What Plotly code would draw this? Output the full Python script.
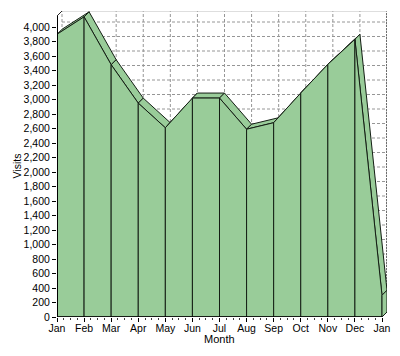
import plotly.graph_objects as go

# ---- data ----
months = ["Jan", "Feb", "Mar", "Apr", "May", "Jun", "Jul", "Aug", "Sep", "Oct", "Nov", "Dec", "Jan"]
visits = [3900, 4140, 3480, 2950, 2610, 3020, 3020, 2590, 2680, 3090, 3485, 3830, 300]
y_ticks = list(range(0, 4001, 200))
y_tick_text = [f"{v:,}" for v in y_ticks]

# ---- layout geometry / style ----
PAGE_OFF = 8                    # default body margin of the page
W, H = 400 - PAGE_OFF, 356 - PAGE_OFF
ML, MR, MT, MB = 57 - PAGE_OFF, 13, 11 - PAGE_OFF, 39
plot_w = W - ML - MR
plot_h = H - MT - MB
px_per_x = 325 / 12.0          # front x axis spans 325 px
px_per_y = 290 / 4000.0        # 4000 visits = 290 px
DEPTH_PX = 5
dx = DEPTH_PX / px_per_x
dy = DEPTH_PX / px_per_y
x_max = plot_w / px_per_x
y_max = plot_h / px_per_y

FILL = "rgb(153,204,153)"
EDGE = "rgb(20,30,20)"
GRID = "rgb(150,150,150)"

n = len(visits)
xs = list(range(n))

fig = go.Figure()

def poly(px, py):
    fig.add_trace(go.Scatter(
        x=px + [px[0]], y=py + [py[0]], mode="lines", fill="toself",
        fillcolor=FILL, line=dict(color=EDGE, width=1),
        hoverinfo="skip", showlegend=False))

# top (ridge) faces
for i in range(n - 1):
    x0, x1 = xs[i], xs[i + 1]
    v0, v1 = visits[i], visits[i + 1]
    poly([x0, x1, x1 + dx, x0 + dx], [v0, v1, v1 + dy, v0 + dy])

# front faces
for i in range(n - 1):
    x0, x1 = xs[i], xs[i + 1]
    v0, v1 = visits[i], visits[i + 1]
    poly([x0, x0, x1, x1], [0, v0, v1, 0])

# right end side face
xe, ve = xs[-1], visits[-1]
poly([xe, xe, xe + dx, xe + dx], [0, ve, ve + dy, dy])

shapes = []
# back-wall horizontal gridlines
for t in y_ticks:
    shapes.append(dict(type="line", xref="x", yref="y", x0=dx, x1=x_max, y0=t + dy, y1=t + dy,
                       line=dict(color=GRID, width=1, dash="3px,2px"), layer="below"))
# back-wall vertical gridlines
for i in xs:
    shapes.append(dict(type="line", xref="x", yref="y", x0=i + dx, x1=i + dx, y0=dy, y1=y_max,
                       line=dict(color=GRID, width=1, dash="3px,2px"), layer="below"))
# right edge of back wall
shapes.append(dict(type="line", xref="x", yref="y", x0=x_max, x1=x_max, y0=dy, y1=y_max,
                   line=dict(color="rgb(110,110,110)", width=2, dash="2px,1px"), layer="below"))
# top edge of back wall
shapes.append(dict(type="line", xref="x", yref="y", x0=dx, x1=x_max, y0=y_max, y1=y_max,
                   line=dict(color="rgb(190,190,190)", width=1), layer="below"))
# top-left wall corner diagonal
shapes.append(dict(type="line", xref="x", yref="y", x0=0, x1=dx, y0=y_max - dy, y1=y_max,
                   line=dict(color="rgb(40,40,40)", width=1), layer="above"))
# front axis lines
shapes.append(dict(type="line", xref="x", yref="y", x0=0, x1=0, y0=0, y1=y_max - dy,
                   line=dict(color="black", width=2), layer="above"))
shapes.append(dict(type="line", xref="x", yref="y", x0=0, x1=xs[-1], y0=0, y1=0,
                   line=dict(color="black", width=1.5), layer="above"))

font_family = "Liberation Sans, Arial, sans-serif"

fig.update_layout(
    width=W, height=H,
    margin=dict(l=ML, r=MR, t=MT, b=MB, pad=0, autoexpand=False),
    paper_bgcolor="white", plot_bgcolor="white",
    shapes=shapes,
    font=dict(family=font_family, size=10.5, color="black"),
    xaxis=dict(range=[0, x_max], tickvals=xs, ticktext=months, ticks="outside", ticklen=4,
               tickcolor="black", showgrid=False, zeroline=False, showline=False,
               minor=dict(dtick=0.25, tick0=0, ticks="outside", ticklen=2, tickcolor="rgb(60,60,60)", showgrid=False),
               tickfont=dict(size=10.5), ticklabelstandoff=-3, automargin=False, fixedrange=True),
    yaxis=dict(range=[0, y_max], tickvals=y_ticks, ticktext=y_tick_text, ticks="outside", ticklen=4,
               tickcolor="black", showgrid=False, zeroline=False, showline=False,
               tickfont=dict(size=10.5), automargin=False, fixedrange=True),
    annotations=[
        dict(text="Month", xref="x", x=(xs[-1]) / 2, yref="paper", y=-(339 - 317) / plot_h,
             showarrow=False, xanchor="center", yanchor="middle", font=dict(size=11)),
        dict(text="Visits", xref="paper", x=-(57 - 16) / plot_w, yref="y", y=(y_max - dy) / 2,
             showarrow=False, xanchor="center", yanchor="middle", textangle=-90, font=dict(size=10.5)),
    ],
)

fig.write_html("out.html")
